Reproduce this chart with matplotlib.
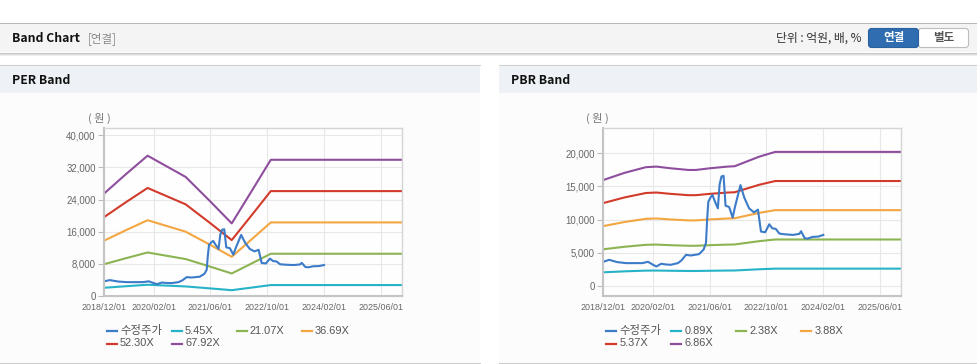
import numpy as np
import pandas as pd
import matplotlib
matplotlib.use("Agg")
import matplotlib.pyplot as plt
from matplotlib.patches import Rectangle, FancyBboxPatch
from matplotlib.lines import Line2D
from matplotlib.transforms import Affine2D
from matplotlib.ticker import FuncFormatter

# adjusted share price (수정주가), shared by both charts
price_dates = ["2018-12-01", "2019-01-20", "2019-04-01", "2019-06-15", "2019-11-01",
               "2019-12-20", "2020-02-01", "2020-03-01", "2020-04-10", "2020-05-20",
               "2020-07-01", "2020-09-01", "2020-10-01", "2020-11-10", "2020-12-20",
               "2021-03-01", "2021-04-10", "2021-04-30", "2021-05-10", "2021-05-20",
               "2021-06-10", "2021-06-25", "2021-07-12", "2021-08-10", "2021-08-25",
               "2021-09-10", "2021-09-28", "2021-10-15", "2021-11-15", "2021-12-15",
               "2022-01-05", "2022-02-20", "2022-03-25", "2022-05-05", "2022-06-15",
               "2022-07-20", "2022-08-15", "2022-09-20", "2022-10-25", "2022-11-20",
               "2022-12-20", "2023-01-20", "2023-03-01", "2023-05-15", "2023-07-10",
               "2023-07-25", "2023-08-25", "2023-09-20", "2023-11-01", "2023-12-20",
               "2024-02-01"]
price = [3650, 3950, 3600, 3450, 3450,
         3650, 3200, 2950, 3350, 3250,
         3200, 3450, 3850, 4700, 4600,
         4800, 5500, 6500, 10000, 12700,
         13400, 13700, 12900, 11700, 15300,
         16500, 16600, 12100, 11900, 10300,
         12000, 15200, 13300, 11700, 11100,
         11500, 8200, 8100, 9300, 8700,
         8600, 7900, 7800, 7700, 7850,
         8250, 7200, 7150, 7400, 7450,
         7700]

# PER band: EPS base and multiples
per_dates = ["2018-12-01", "2019-06-01", "2019-12-10", "2020-11-01", "2021-06-01",
             "2021-12-01", "2022-06-01", "2022-11-01", "2025-12-01"]
per_eps = [375, 444, 514, 436, 346, 266, 392, 499, 499]
per_multiples = [5.45, 21.07, 36.69, 52.30, 67.92]

# PBR band: BPS base and multiples
pbr_dates = ["2018-12-01", "2019-06-01", "2019-12-01", "2020-03-01", "2020-07-01",
             "2020-12-01", "2021-02-01", "2021-06-01", "2021-11-01", "2022-01-01",
             "2022-08-01", "2022-12-15", "2025-12-01"]
pbr_bps = [2327, 2485, 2609, 2622, 2585, 2548, 2548, 2585, 2622, 2630, 2841, 2945, 2945]
pbr_multiples = [0.89, 2.38, 3.88, 5.37, 6.86]

x_ticks = ["2018-12-01", "2020-02-01", "2021-06-01", "2022-10-01", "2024-02-01", "2025-06-01"]
per_yticks = [0, 8000, 16000, 24000, 32000, 40000]
pbr_yticks = [0, 5000, 10000, 15000, 20000]

price_color = "#3b7bc8"
band_colors = ["#27b3c7", "#8cb453", "#f3a641", "#d23b2b", "#8e4e9d"]

plt.rcParams['font.family'] = ["Liberation Sans", "Noto Sans CJK KR", "DejaVu Sans"]
KR = ["Noto Sans CJK KR", "DejaVu Sans"]

W, H = 978, 364
fig = plt.figure(figsize=(W / 100, H / 100), dpi=100)
fig.patch.set_facecolor("white")
# pixel coords, y measured from the top
px = Affine2D().scale(0.01, -0.01).translate(0, H / 100) + fig.dpi_scale_trans


def rect(x, y, w, h, fc, z=0):
    fig.add_artist(Rectangle((x, y), w, h, transform=px, fc=fc, ec="none", zorder=z))


def hline(x0, x1, y, color, lw=1.0):
    fig.add_artist(Line2D([x0, x1], [y, y], transform=px, color=color, lw=lw * 0.72))


def text(x, y, s, **kw):
    fig.text(x, y, s, transform=px, va="center", **kw)


# top header bar
hline(0, W, 22.5, "#b8b8b8")
rect(0, 23, W, 29, "#f4f4f4")
hline(0, W, 52.5, "#c6c6c6")
hline(0, W, 53.5, "#dcdcdc")
hline(0, W, 54.5, "#eeeeee")
text(12, 38.5, "Band Chart", fontsize=8.8, fontweight="bold", family=KR, color="#111")
text(88, 38.5, "[연결]", fontsize=8.3, family=KR, color="#8a8a8a")
text(862, 38.5, "단위 : 억원, 배, %", fontsize=8.5, family=KR, color="#333", ha="right")
fig.add_artist(FancyBboxPatch((918.5, 28.5), 50, 19, boxstyle="round,pad=0,rounding_size=3",
                              transform=px, fc="white", ec="#bdbdbd", lw=0.8))
fig.add_artist(FancyBboxPatch((868.5, 28.5), 50, 19, boxstyle="round,pad=0,rounding_size=3",
                              transform=px, fc="#2f6db0", ec="#2a62a0", lw=0.8))
text(893.5, 38, "연결", fontsize=8.3, family=KR, fontweight="bold", color="white", ha="center")
text(943.5, 38, "별도", fontsize=8.3, family=KR, fontweight="bold", color="#555", ha="center")

# panels
for x0, x1, title in [(0, 479.5, "PER Band"), (499, 978, "PBR Band")]:
    rect(x0, 64, x1 - x0, 299, "#fcfcfc")
    rect(x0, 65, x1 - x0, 28, "#eef2f7")
    hline(x0, x1, 64.5, "#d0d0d0")
    hline(x0, x1, 362.5, "#cccccc")
    text(x0 + 12, 80, title, fontsize=8.8, fontweight="bold", family=KR, color="#111")


def band_chart(left_px, dates, base, multiples, yticks, ylim, unit_x):
    ax = fig.add_axes([left_px / W, 1 - 296 / H, 298 / W, 168 / H])
    ax.set_facecolor("#fefefe")
    d = pd.to_datetime(dates)
    for m, c in zip(multiples, band_colors):
        ax.plot(d, np.array(base) * m, color=c, lw=1.5)
    ax.plot(pd.to_datetime(price_dates), price, color=price_color, lw=1.5)

    ax.set_xlim(pd.Timestamp("2018-12-01"), pd.Timestamp("2025-12-01"))
    ax.set_ylim(*ylim)
    xt = pd.to_datetime(x_ticks)
    ax.set_xticks(xt)
    ax.set_xticklabels([t.strftime("%Y/%m/%d") for t in xt])
    ax.set_yticks(yticks)
    ax.yaxis.set_major_formatter(FuncFormatter(lambda v, p: f"{int(v):,}"))
    ax.tick_params(axis="x", length=0, pad=5, labelsize=6.4, labelcolor="#666")
    ax.tick_params(axis="y", length=4, width=0.8, color="#bbbbbb", pad=2,
                   labelsize=6.9, labelcolor="#666")
    ax.grid(True, color="#e8e8e8", lw=0.8)
    ax.set_axisbelow(True)
    for s in ["left", "bottom"]:
        ax.spines[s].set_color("#c4c4c4")
        ax.spines[s].set_linewidth(1.5)
    for s in ["top", "right"]:
        ax.spines[s].set_color("#d5d5d5")
        ax.spines[s].set_linewidth(1.0)

    text(unit_x, 118, "( 원 )", fontsize=8, family=KR, color="#777", ha="center")

    # legend, fixed-width columns as in the original
    labels = ["수정주가"] + [f"{m:.2f}X" for m in multiples]
    colors = [price_color] + band_colors
    lx0 = left_px + 3
    for i, (lab, c) in enumerate(zip(labels, colors)):
        r, k = divmod(i, 4)
        x = lx0 + 65 * k
        y = 330.5 + 13 * r
        fig.add_artist(Line2D([x, x + 10], [y, y], transform=px, color=c, lw=1.6))
        size = 8.2 if i == 0 else 7.9
        text(x + 13, y, lab, fontsize=size, color="#555")
    return ax


band_chart(104, per_dates, per_eps, per_multiples, per_yticks, (0, 41800), 99)
band_chart(603.3, pbr_dates, pbr_bps, pbr_multiples, pbr_yticks, (-1500, 23800), 597)

fig.savefig("out.png", dpi=100)
